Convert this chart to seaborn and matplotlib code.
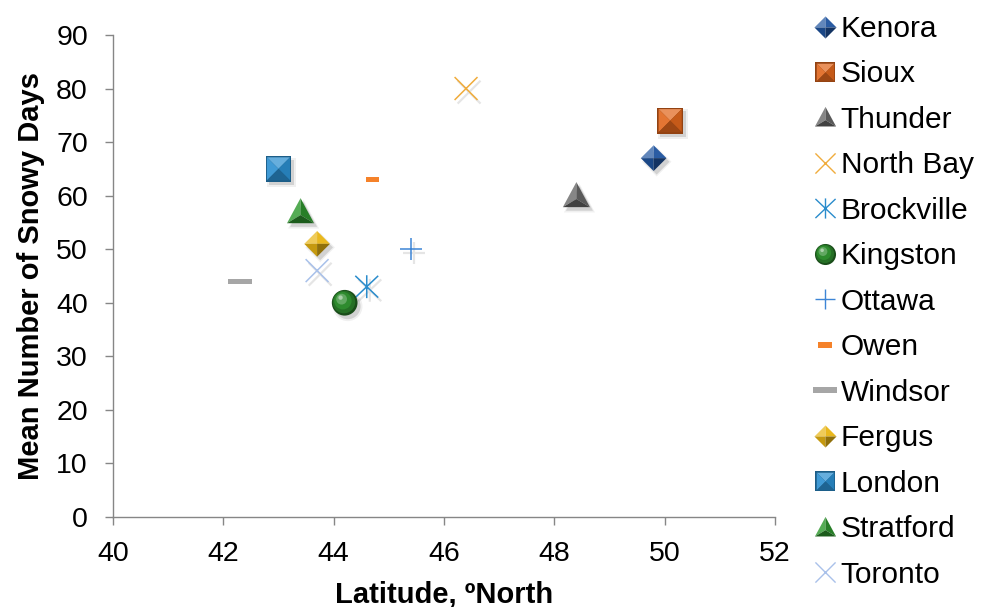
import matplotlib
matplotlib.use("Agg")
import numpy as np
import pandas as pd
import matplotlib.pyplot as plt
import seaborn as sns
from matplotlib.path import Path
from matplotlib.lines import Line2D
from matplotlib.colors import to_rgb
from matplotlib.legend_handler import HandlerTuple
from matplotlib.transforms import offset_copy

# ---- data -------------------------------------------------------------
cities = ["Kenora", "Sioux", "Thunder", "North Bay", "Brockville", "Kingston",
          "Ottawa", "Owen", "Windsor", "Fergus", "London", "Stratford", "Toronto"]
latitude = [49.8, 50.1, 48.4, 46.4, 44.6, 44.2, 45.4, 44.7, 42.3, 43.7, 43.0, 43.4, 43.7]
snowy_days = [67, 74, 60, 80, 43, 40, 50, 63, 44, 51, 65, 57, 46]

x_ticks = [40, 42, 44, 46, 48, 50, 52]
y_ticks = [0, 10, 20, 30, 40, 50, 60, 70, 80, 90]

# ---- marker styling per city --------------------------------------------
shapes = ["diamond", "square", "triangle", "x", "asterisk", "sphere", "plus",
          "short_dash", "long_dash", "diamond", "square", "triangle", "x"]
colors = ["#1f539e", "#e0661c", "#6c6c6c", "#f0ac3c", "#2a8ccc", "#2e8b2e",
          "#3d85d6", "#f5822a", "#a6a6a6", "#e8b412", "#2b8fd0", "#2f9a2f", "#a9c1ea"]
sizes = [18.5, 18.5, 19.5, 16.5, 16.5, 18.5, 16, 9.5, 17.5, 18.5, 18.5, 19.5, 16.5]
legend_scale = {"diamond": 0.86, "square": 0.76, "triangle": 0.78, "sphere": 0.82,
                "x": 0.88, "asterisk": 0.88, "plus": 0.92,
                "short_dash": 1.0, "long_dash": 1.0}

ANCHOR = Path([(1.0, 1.0)], [Path.MOVETO])  # keeps every layer on the same scale


def poly(*pts):
    verts = [(1.0, 1.0)] + list(pts) + [pts[0]]
    codes = [Path.MOVETO, Path.MOVETO] + [Path.LINETO] * (len(pts) - 1) + [Path.CLOSEPOLY]
    return Path(verts, codes)


def segments(*segs):
    verts, codes = [], []
    for a, b in segs:
        verts += [a, b]
        codes += [Path.MOVETO, Path.LINETO]
    return Path(verts, codes)


def circle(cx, cy, r):
    c = Path.circle((cx, cy), r)
    return Path.make_compound_path(ANCHOR, c)


def shade(color, f):
    rgb = np.array(to_rgb(color))
    if f >= 0:
        return tuple(rgb + (1 - rgb) * f)
    return tuple(rgb * (1 + f))


TRI = [(0, 1), (-1, -0.85), (1, -0.85)]
TRI_C = (0, -0.25)

FACETS = {
    "square": [
        (poly((-1, 1), (1, 1), (1, -1), (-1, -1)), -0.35),
        (poly((-0.9, 0.9), (0.9, 0.9), (0, 0)), 0.28),
        (poly((-0.9, 0.9), (-0.9, -0.9), (0, 0)), 0.10),
        (poly((0.9, 0.9), (0.9, -0.9), (0, 0)), -0.12),
        (poly((-0.9, -0.9), (0.9, -0.9), (0, 0)), -0.30),
    ],
    "diamond": [
        (poly((0, 1), (-1, 0), (0, 0)), 0.30),
        (poly((0, 1), (1, 0), (0, 0)), 0.05),
        (poly((-1, 0), (0, -1), (0, 0)), -0.15),
        (poly((1, 0), (0, -1), (0, 0)), -0.38),
    ],
    "triangle": [
        (poly(TRI[0], TRI[1], TRI_C), 0.18),
        (poly(TRI[0], TRI[2], TRI_C), -0.18),
        (poly(TRI[1], TRI[2], TRI_C), -0.40),
    ],
    "sphere": [
        (circle(0, 0, 1.0), -0.45),
        (circle(-0.06, 0.06, 0.88), -0.2),
        (circle(-0.14, 0.16, 0.68), 0.0),
        (circle(-0.24, 0.28, 0.42), 0.25),
        (circle(-0.32, 0.40, 0.17), 0.6),
    ],
    "short_dash": [(poly((-1, 0.42), (1, 0.42), (1, -0.42), (-1, -0.42)), 0.0)],
    "long_dash": [(poly((-1, 0.22), (1, 0.22), (1, -0.22), (-1, -0.22)), 0.0)],
}
LINES = {
    "x": segments(((-1, -1), (1, 1)), ((-1, 1), (1, -1))),
    "plus": segments(((-1, 0), (1, 0)), ((0, -1), (0, 1))),
    "asterisk": segments(((-1, -0.95), (1, 0.95)), ((-1, 0.95), (1, -0.95)), ((0, -1), (0, 1))),
}
OUTLINE = {
    "square": poly((-1, 1), (1, 1), (1, -1), (-1, -1)),
    "diamond": poly((0, 1), (1, 0), (0, -1), (-1, 0)),
    "triangle": poly(*TRI),
    "sphere": circle(0, 0, 1.0),
}

df = pd.DataFrame({"city": cities, "latitude": latitude, "snowy_days": snowy_days})

# ---- figure -------------------------------------------------------------
sns.set_theme(style="white")
plt.rcParams["font.family"] = ["Liberation Sans", "DejaVu Sans"]
plt.rcParams["text.color"] = "black"
plt.rcParams["axes.labelcolor"] = "black"

fig = plt.figure(figsize=(9.84, 6.07), dpi=100)
ax = fig.add_axes([0.1148, 0.1483, 0.6728, 0.7941])

shadow_tf = offset_copy(ax.transData, fig=fig, x=2.2, y=-2.6, units="points")

handles = []
for i, city in enumerate(cities):
    sub = df[df["city"] == city]
    shape, base, ms = shapes[i], colors[i], sizes[i]
    lm = ms * legend_scale[shape]
    parts = []
    if shape in LINES:
        path = LINES[shape]
        sns.scatterplot(data=sub, x="latitude", y="snowy_days", ax=ax, marker=path,
                        s=ms ** 2, facecolor="none", edgecolor=(0, 0, 0, 0.10),
                        linewidth=1.6, legend=False, transform=shadow_tf, zorder=2)
        sns.scatterplot(data=sub, x="latitude", y="snowy_days", ax=ax, marker=path,
                        s=ms ** 2, facecolor="none", edgecolor=base,
                        linewidth=1.1, legend=False, zorder=4)
        parts.append(Line2D([], [], marker=path, markersize=lm, linestyle="none",
                            markerfacecolor="none", markeredgecolor=base,
                            markeredgewidth=1.0))
    else:
        if shape in OUTLINE:
            for grow, alpha in [(1.15, 0.06), (1.0, 0.12)]:
                sns.scatterplot(data=sub, x="latitude", y="snowy_days", ax=ax,
                                marker=OUTLINE[shape], s=(ms * grow) ** 2,
                                color=(0, 0, 0, alpha), edgecolor="none", linewidth=0,
                                legend=False, transform=shadow_tf, zorder=2)
        for path, f in FACETS[shape]:
            col = shade(base, f)
            sns.scatterplot(data=sub, x="latitude", y="snowy_days", ax=ax, marker=path,
                            s=ms ** 2, color=col, edgecolor="none", linewidth=0,
                            legend=False, zorder=4)
            parts.append(Line2D([], [], marker=path, markersize=lm, linestyle="none",
                                markerfacecolor=col, markeredgewidth=0))
    handles.append(tuple(parts))

# ---- axes ---------------------------------------------------------------
ax.set_xlim(x_ticks[0], x_ticks[-1])
ax.set_ylim(y_ticks[0], y_ticks[-1])
ax.set_xticks(x_ticks)
ax.set_yticks(y_ticks)
ax.tick_params(axis="both", which="major", direction="out", length=6, width=1,
               color="#868686", labelsize=20.5, labelcolor="black",
               bottom=True, left=True)
ax.tick_params(axis="x", pad=11)
ax.tick_params(axis="y", pad=12)
for side in ["top", "right"]:
    ax.spines[side].set_visible(False)
for side in ["left", "bottom"]:
    ax.spines[side].set_color("#868686")
    ax.spines[side].set_linewidth(1.0)
ax.grid(False)

ax.set_xlabel("Latitude, ºNorth", fontsize=21, fontweight="bold", labelpad=10)
ax.set_ylabel("Mean Number of Snowy Days", fontsize=21, fontweight="bold", labelpad=8)

fig.legend(handles, cities, handler_map={tuple: HandlerTuple(ndivide=1, pad=0)},
           loc="upper left", bbox_to_anchor=(0.814, 0.995), frameon=False,
           fontsize=21.5, handlelength=0.8, handletextpad=0.13,
           labelspacing=0.585, borderaxespad=0)

fig.savefig("out.png", dpi=100)
